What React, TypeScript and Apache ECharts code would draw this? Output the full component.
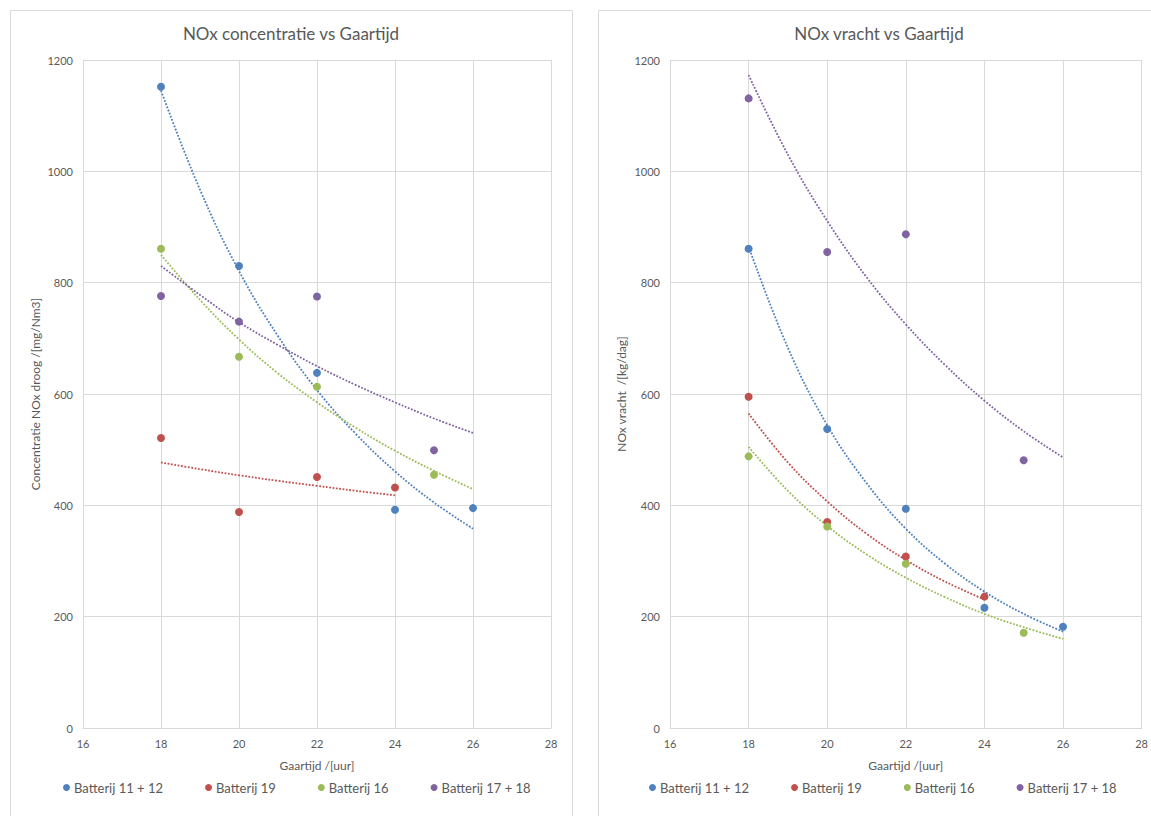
import React, { useEffect, useRef } from "react";
import * as echarts from "echarts";

const FONT = "Lato, 'Open Sans', sans-serif";
const TEXT_COLOR = "#595959";
const GRID_COLOR = "#d9d9d9";

const seriesNames = ["Batterij 11 + 12", "Batterij 19", "Batterij 16", "Batterij 17 + 18"];
const seriesColors = ["#4F81BD", "#C0504D", "#9BBB59", "#8064A2"];

// Gaartijd (x) per series
const gaartijd1112 = [18, 20, 22, 24, 26];
const gaartijd19 = [18, 20, 22, 24];
const gaartijd16 = [18, 20, 22, 25];
const gaartijd1718 = [18, 20, 22, 25];

// NOx concentratie droog [mg/Nm3]
const conc1112 = [1152, 830, 638, 392, 395];
const conc19 = [521, 388, 451, 432];
const conc16 = [861, 667, 613, 455];
const conc1718 = [776, 730, 775, 499];

// NOx vracht [kg/dag]
const vracht1112 = [861, 537, 394, 216, 182];
const vracht19 = [595, 370, 308, 236];
const vracht16 = [488, 362, 295, 171];
const vracht1718 = [1131, 855, 887, 481];

// Trendlines at x = 18..26 (19: 18..24)
const trendX = [18, 19, 20, 21, 22, 23, 24, 25, 26];
const trendX19 = [18, 19, 20, 21, 22, 23, 24];
const concTrend1112 = [1145, 967, 821, 704, 607, 528, 461, 405, 358];
const concTrend19 = [477, 465, 454, 444, 435, 426, 418];
const concTrend16 = [850, 769, 698, 637, 585, 539, 498, 462, 429];
const concTrend1718 = [830, 778, 729, 688, 650, 616, 585, 556, 530];
const vrachtTrend1112 = [865, 683, 544, 440, 358, 295, 245, 205, 173];
const vrachtTrend19 = [565, 477, 407, 349, 302, 263, 231];
const vrachtTrend16 = [505, 426, 363, 312, 270, 235, 205, 181, 160];
const vrachtTrend1718 = [1173, 1030, 911, 810, 725, 652, 588, 533, 486];

const titles = ["NOx concentratie vs Gaartijd", "NOx vracht vs Gaartijd"];
const yNames = ["Concentratie NOx droog /[mg/Nm3]", "NOx vracht  /[kg/dag]"];
const xName = "Gaartijd /[uur]";

const zip = (xs: number[], ys: number[]) => xs.map((x, i) => [x, ys[i]]);

export default function App() {
  const ref = useRef<HTMLDivElement>(null);
  useEffect(() => {
    if (!ref.current) return;
    const chart = echarts.init(ref.current, null, { renderer: "svg" });

    const grids = [
      { left: 83, top: 60, width: 468, height: 668 },
      { left: 670, top: 60, width: 472, height: 668 },
    ];

    const xAxes = [0, 1].map((g) => ({
      type: "value",
      gridIndex: g,
      min: 16,
      max: 28,
      interval: 2,
      name: xName,
      nameLocation: "middle",
      nameGap: 31,
      nameTextStyle: { color: TEXT_COLOR, fontSize: 12, fontFamily: FONT },
      axisLine: { show: true, lineStyle: { color: GRID_COLOR } },
      axisTick: { show: false },
      axisLabel: { color: TEXT_COLOR, fontSize: 11, fontFamily: FONT, margin: 10 },
      splitLine: { show: true, lineStyle: { color: GRID_COLOR } },
    }));
    const yAxes = [0, 1].map((g) => ({
      type: "value",
      gridIndex: g,
      min: 0,
      max: 1200,
      interval: 200,
      name: yNames[g],
      nameLocation: "middle",
      nameGap: g === 0 ? 42 : 43,
      nameTextStyle: { color: TEXT_COLOR, fontSize: 12, fontFamily: FONT },
      axisLine: { show: true, lineStyle: { color: GRID_COLOR } },
      axisTick: { show: false },
      axisLabel: {
        color: TEXT_COLOR,
        fontSize: 11,
        fontFamily: FONT,
        margin: 10,
        formatter: (v: number) => String(v),
      },
      splitLine: { show: true, lineStyle: { color: GRID_COLOR } },
    }));

    const pointData = [
      [zip(gaartijd1112, conc1112), zip(gaartijd19, conc19), zip(gaartijd16, conc16), zip(gaartijd1718, conc1718)],
      [zip(gaartijd1112, vracht1112), zip(gaartijd19, vracht19), zip(gaartijd16, vracht16), zip(gaartijd1718, vracht1718)],
    ];
    const trendData = [
      [zip(trendX, concTrend1112), zip(trendX19, concTrend19), zip(trendX, concTrend16), zip(trendX, concTrend1718)],
      [zip(trendX, vrachtTrend1112), zip(trendX19, vrachtTrend19), zip(trendX, vrachtTrend16), zip(trendX, vrachtTrend1718)],
    ];

    const series: any[] = [];
    [0, 1].forEach((g) => {
      seriesNames.forEach((name, i) => {
        series.push({
          type: "line",
          name: "Trend " + name + " " + g,
          xAxisIndex: g,
          yAxisIndex: g,
          data: trendData[g][i],
          smooth: 0.4,
          showSymbol: false,
          symbol: "none",
          silent: true,
          z: 2,
          lineStyle: { color: seriesColors[i], width: 1.8, type: [1.8, 1.6] },
        });
      });
      seriesNames.forEach((name, i) => {
        series.push({
          type: "scatter",
          name,
          xAxisIndex: g,
          yAxisIndex: g,
          data: pointData[g][i],
          symbol: "circle",
          symbolSize: 8,
          z: 3,
          itemStyle: { color: seriesColors[i], opacity: 1 },
        });
      });
    });

    const legendBase = {
      data: seriesNames.map((n, i) => ({ name: n, icon: "circle", itemStyle: { color: seriesColors[i] } })),
      top: 776,
      itemWidth: 7,
      itemHeight: 7,
      itemGap: 42,
      textStyle: { color: TEXT_COLOR, fontSize: 13, fontFamily: FONT, padding: [0, 0, 0, -1] },
      selectedMode: false,
    };

    chart.setOption({
      animation: false,
      backgroundColor: "#ffffff",
      textStyle: { fontFamily: FONT },
      grid: grids,
      xAxis: xAxes,
      yAxis: yAxes,
      legend: [
        { ...legendBase, left: 58 },
        { ...legendBase, left: 644 },
      ],
      graphic: [
        { type: "rect", shape: { x: 10.5, y: 10.5, width: 562, height: 830 }, style: { fill: "none", stroke: GRID_COLOR, lineWidth: 1 }, silent: true },
        { type: "rect", shape: { x: 598.5, y: 10.5, width: 580, height: 830 }, style: { fill: "none", stroke: GRID_COLOR, lineWidth: 1 }, silent: true },
        { type: "text", x: 291, y: 33, style: { text: titles[0], fill: TEXT_COLOR, fontSize: 17, fontFamily: FONT, align: "center", verticalAlign: "middle" } },
        { type: "text", x: 879, y: 33, style: { text: titles[1], fill: TEXT_COLOR, fontSize: 17, fontFamily: FONT, align: "center", verticalAlign: "middle" } },
      ],
      series,
    });

    return () => chart.dispose();
  }, []);

  return (
    <div
      ref={ref}
      style={{ position: "fixed", left: 0, top: 0, width: 1151, height: 816, background: "#fff" }}
    />
  );
}
